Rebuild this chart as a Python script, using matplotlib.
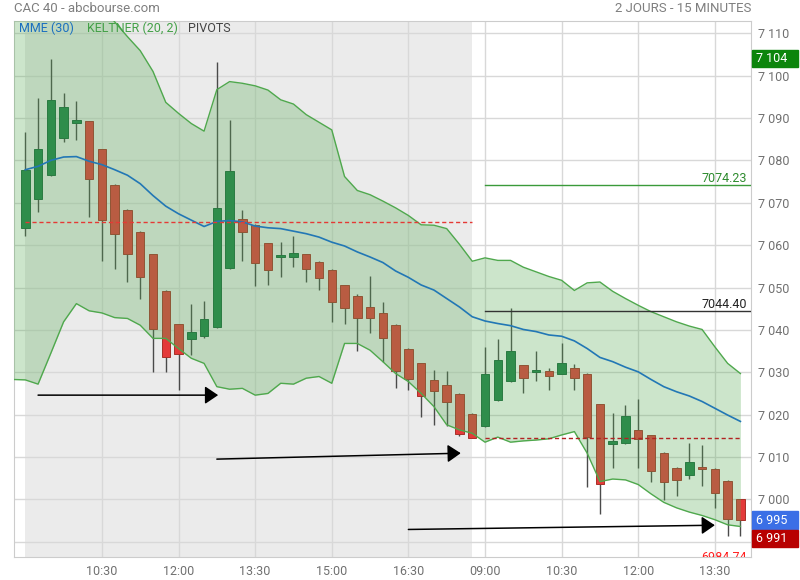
import numpy as np
import matplotlib.pyplot as plt
from matplotlib.patches import Rectangle
from matplotlib.transforms import blended_transform_factory

plt.rcParams['font.family'] = ['Roboto', 'DejaVu Sans']

# 15 min candles, day 1 = index 0..35, day 2 = index 36..56
opens = [7064.1, 7070.9, 7076.5, 7085.2, 7088.8, 7089.2, 7082.6, 7074.3, 7068.4, 7063.2,
         7057.8, 7049.1, 7041.3, 7037.9, 7038.6, 7040.6, 7054.6, 7066.2, 7064.7, 7060.4,
         7057.2, 7057.2, 7057.8, 7056.1, 7054.2, 7050.5, 7047.9, 7045.3, 7043.9, 7041.1,
         7035.6, 7032.1, 7028.1, 7026.9, 7024.8, 7020.1,
         7017.2, 7023.4, 7028.0, 7031.6, 7030.1, 7030.3, 7029.7, 7030.9, 7029.7, 7022.4,
         7013.0, 7013.3, 7016.4, 7015.1, 7010.9, 7007.4, 7005.7, 7007.4, 7007.1, 7004.3, 7000.0]
highs = [7086.8, 7094.8, 7104.0, 7095.8, 7094.1, 7089.4, 7082.8, 7074.5, 7068.6, 7063.4,
         7058.0, 7049.3, 7041.5, 7046.2, 7046.8, 7103.3, 7089.6, 7068.2, 7064.9, 7060.6,
         7060.7, 7062.1, 7058.0, 7056.3, 7054.4, 7050.7, 7048.4, 7052.7, 7046.5, 7041.3,
         7035.8, 7032.3, 7030.5, 7030.2, 7025.0, 7020.3,
         7036.0, 7037.8, 7045.1, 7031.8, 7035.0, 7030.9, 7036.8, 7031.9, 7029.9, 7022.6,
         7020.3, 7022.3, 7023.7, 7015.3, 7011.1, 7007.6, 7013.3, 7012.9, 7007.3, 7004.5, 7000.2]
lows = [7062.2, 7067.8, 7076.3, 7084.3, 7084.8, 7066.6, 7056.3, 7054.4, 7051.3, 7047.3,
        7030.0, 7030.1, 7025.8, 7034.1, 7038.1, 7040.4, 7054.4, 7056.3, 7050.3, 7050.5,
        7052.5, 7054.9, 7051.3, 7049.4, 7041.9, 7041.4, 7034.9, 7039.2, 7032.5, 7026.4,
        7025.8, 7019.5, 7017.6, 7017.2, 7014.9, 7014.6,
        7017.0, 7023.2, 7027.8, 7025.2, 7028.0, 7025.8, 7029.5, 7025.7, 7002.9, 6996.5,
        7007.5, 7013.1, 7007.5, 7004.0, 6999.8, 7000.7, 7004.9, 7003.1, 6997.9, 6991.3, 6991.3]
closes = [7077.8, 7082.6, 7094.3, 7092.5, 7089.6, 7075.7, 7066.0, 7062.7, 7058.0, 7052.5,
          7040.1, 7033.7, 7034.4, 7039.4, 7042.5, 7068.8, 7077.6, 7063.1, 7055.9, 7054.2,
          7057.6, 7058.1, 7054.4, 7052.3, 7046.6, 7045.1, 7042.7, 7042.7, 7038.0, 7030.4,
          7028.3, 7024.4, 7025.5, 7022.9, 7015.4, 7014.6,
          7029.5, 7033.0, 7035.0, 7028.7, 7030.6, 7029.0, 7032.1, 7028.7, 7014.8, 7003.6,
          7013.8, 7019.7, 7014.2, 7006.6, 7004.1, 7004.5, 7008.8, 7007.1, 7001.4, 6995.3, 6995.1]

mme30 = [7077.8, 7078.6, 7080.0, 7080.8, 7080.9, 7079.8, 7079.0, 7077.8, 7076.5, 7074.5,
         7071.7, 7069.2, 7067.4, 7065.9, 7064.4, 7065.6, 7065.8, 7065.5, 7064.5, 7064.1,
         7063.9, 7063.3, 7062.7, 7061.9, 7060.7, 7059.8, 7058.4, 7057.2, 7055.9, 7053.9,
         7052.4, 7050.6, 7049.4, 7047.4, 7045.4, 7043.1,
         7042.1, 7041.5, 7041.0, 7040.1, 7039.6, 7038.8, 7038.5, 7037.4, 7035.6, 7033.5,
         7032.5, 7031.2, 7030.1, 7028.3, 7026.6, 7025.4, 7024.4, 7023.1, 7021.5, 7019.9, 7018.4]

# keltner bands start one candle before the first visible one
kelt_up = [7130.0,
           7128.0, 7127.0, 7126.0, 7124.0, 7122.0, 7119.0, 7116.4, 7112.7, 7109.2, 7105.9,
           7101.0, 7093.7, 7091.1, 7088.7, 7086.9, 7096.7, 7098.6, 7098.2, 7097.6, 7096.6,
           7094.3, 7093.3, 7090.8, 7089.0, 7087.2, 7076.2, 7072.9, 7071.9, 7070.4, 7068.8,
           7067.0, 7064.8, 7064.7, 7063.9, 7060.2, 7056.2,
           7057.0, 7056.4, 7056.4, 7054.8, 7053.7, 7052.6, 7051.7, 7049.3, 7051.1, 7051.3,
           7049.1, 7047.4, 7045.8, 7044.3, 7043.1, 7041.9, 7040.9, 7040.1, 7036.0, 7032.1, 7029.7]
kelt_low = [7028.3,
            7028.2, 7027.2, 7034.5, 7041.9, 7046.2, 7044.5, 7044.0, 7042.9, 7042.7, 7041.1,
            7038.0, 7038.0, 7035.6, 7033.3, 7032.1, 7026.6, 7026.0, 7026.2, 7024.6, 7025.0,
            7027.4, 7027.2, 7028.6, 7029.0, 7027.4, 7036.8, 7036.8, 7035.2, 7032.5, 7029.7,
            7027.8, 7025.0, 7021.9, 7017.6, 7016.4, 7015.6,
            7013.5, 7014.7, 7013.5, 7013.8, 7014.0, 7014.3, 7015.2, 7016.0, 7010.9, 7004.2,
            7004.8, 7004.6, 7003.5, 7001.3, 6999.3, 6998.0, 6997.0, 6996.2, 6995.2, 6994.0, 6993.6]

tick_pos = [6, 12, 18, 24, 30, 36, 42, 48, 54]
tick_labels = ['10:30', '12:00', '13:30', '15:00', '16:30', '09:00', '10:30', '12:00', '13:30']

day1_last = 35
day2_first = 36

prev_close_d1 = 7065.4
r1 = 7074.23
pivot = 7044.40
prev_close_d2 = 7014.57
s1 = 6984.74

# user drawn arrows: (x0, y0, x1, y1)
arrows = [(1.0, 7024.6, 15.1, 7024.6),
          (15.0, 7009.5, 34.1, 7010.9),
          (30.0, 6992.9, 54.0, 6993.9)]

fig = plt.figure(figsize=(8, 5.8), dpi=100)
ax = fig.add_axes([14/800, 23/580, 737/800, 536/580])

n = len(closes)
x = np.arange(n)
o = np.array(opens)
c = np.array(closes)
up = c >= o
xmin, xmax = -0.885, 56.83

ax.axvspan(0, day1_last, color='#EBEBEB', lw=0, zorder=0)

# candles (drawn under the keltner fill)
red, green = '#E43A3A', '#1E8048'
cols = np.where(up, green, red)
edges = np.where(up, '#17663A', '#A83028')
ax.vlines(x, lows, highs, color='#4A4A4A', lw=1, zorder=2)
body_lo = np.minimum(o, c)
body_h = np.maximum(np.abs(c - o), 0.45)
ax.bar(x, body_h, bottom=body_lo, width=0.66, color=cols, edgecolor=edges, lw=0.7, zorder=2.1)

xb = np.arange(-1, n)
ax.fill_between(xb, kelt_low, kelt_up, color='#58AC55', alpha=0.3, lw=0, zorder=3)
ax.plot(xb, kelt_up, color='#4FA84D', lw=1, zorder=4)
ax.plot(xb, kelt_low, color='#4FA84D', lw=1, zorder=4)
ax.plot(x, mme30, color='#2277B5', lw=1.2, zorder=5)

# pivots
ax.plot([0, day1_last], [prev_close_d1] * 2, color='#E53935', lw=1, ls=(0, (3, 2)), zorder=5)
ax.plot([day2_first, n - 1], [prev_close_d2] * 2, color='#B22222', lw=1, ls=(0, (3, 2)), zorder=5)
ax.plot([day2_first, xmax], [r1] * 2, color='#3A9A3A', lw=1, zorder=5)
ax.plot([day2_first, xmax], [pivot] * 2, color='#333333', lw=1, zorder=5)
for val, col in [(r1, '#2E8B2E'), (pivot, '#222222'), (s1, '#FF2020')]:
    ax.text(56.5, val, f'{val:.2f}', ha='right', va='bottom', color=col,
            fontsize=9, zorder=6, clip_on=True)

for x0, y0, x1, y1 in arrows:
    ax.annotate('', xy=(x1, y1), xytext=(x0, y0),
                arrowprops=dict(arrowstyle='-|>,head_length=0.4,head_width=0.27',
                                color='black', lw=1.1, mutation_scale=20,
                                shrinkA=0, shrinkB=0), zorder=7)

ax.set_xlim(xmin, xmax)
ax.set_ylim(6986.4, 7112.9)
ax.set_xticks(tick_pos)
ax.set_xticklabels(tick_labels)
yt = np.arange(6990, 7111, 10)
ax.set_yticks(yt)
# the 6 990 label sits behind the price tags
ax.set_yticklabels(['' if v < 7000 else f'{v:,}'.replace(',', ' ') for v in yt])
ax.yaxis.tick_right()
ax.tick_params(length=0, labelsize=9, labelcolor='#707070')
ax.tick_params(axis='x', pad=6)
ax.tick_params(axis='y', pad=5)
ax.set_axisbelow(True)
ax.grid(True, color='#D8D8D8', lw=1, zorder=0.5)
for sp in ax.spines.values():
    sp.set_color('#CCCCCC')

# price tags on the right
tr = blended_transform_factory(fig.transFigure, ax.transData)
tag_h = 17.5 / 4.236
tags = [(7104, '#0C850C'), (closes[-1], '#3B6FE6'), (min(lows[-2:]), '#B80000')]
prev_bottom = None
for val, col in tags:
    yc = val
    if prev_bottom is not None and yc + tag_h / 2 > prev_bottom:
        yc = prev_bottom - tag_h / 2 - 0.25
    r = Rectangle((752/800, yc - tag_h / 2), 46/800, tag_h, transform=tr,
                  color=col, clip_on=False, zorder=8)
    ax.add_patch(r)
    ax.text(756/800, yc, f'{round(val):,}'.replace(',', ' '), transform=tr, color='white',
            fontsize=9, va='center', ha='left', zorder=9, clip_on=False)
    prev_bottom = yc - tag_h / 2

fig.text(14/800, 1 - 8/580, 'CAC 40 - abcbourse.com', color='#7F7F7F', fontsize=9.5, va='center')
fig.text(751/800, 1 - 8/580, '2 JOURS - 15 MINUTES', color='#7F7F7F', fontsize=9.5,
         va='center', ha='right')
fig.text(19/800, 1 - 28/580, 'MME (30)', color='#1A6FC0', fontsize=9, va='center')
fig.text(87/800, 1 - 28/580, 'KELTNER (20, 2)', color='#43A047', fontsize=9, va='center')
fig.text(188/800, 1 - 28/580, 'PIVOTS', color='#444444', fontsize=9, va='center')

fig.savefig('out.png', dpi=100)
